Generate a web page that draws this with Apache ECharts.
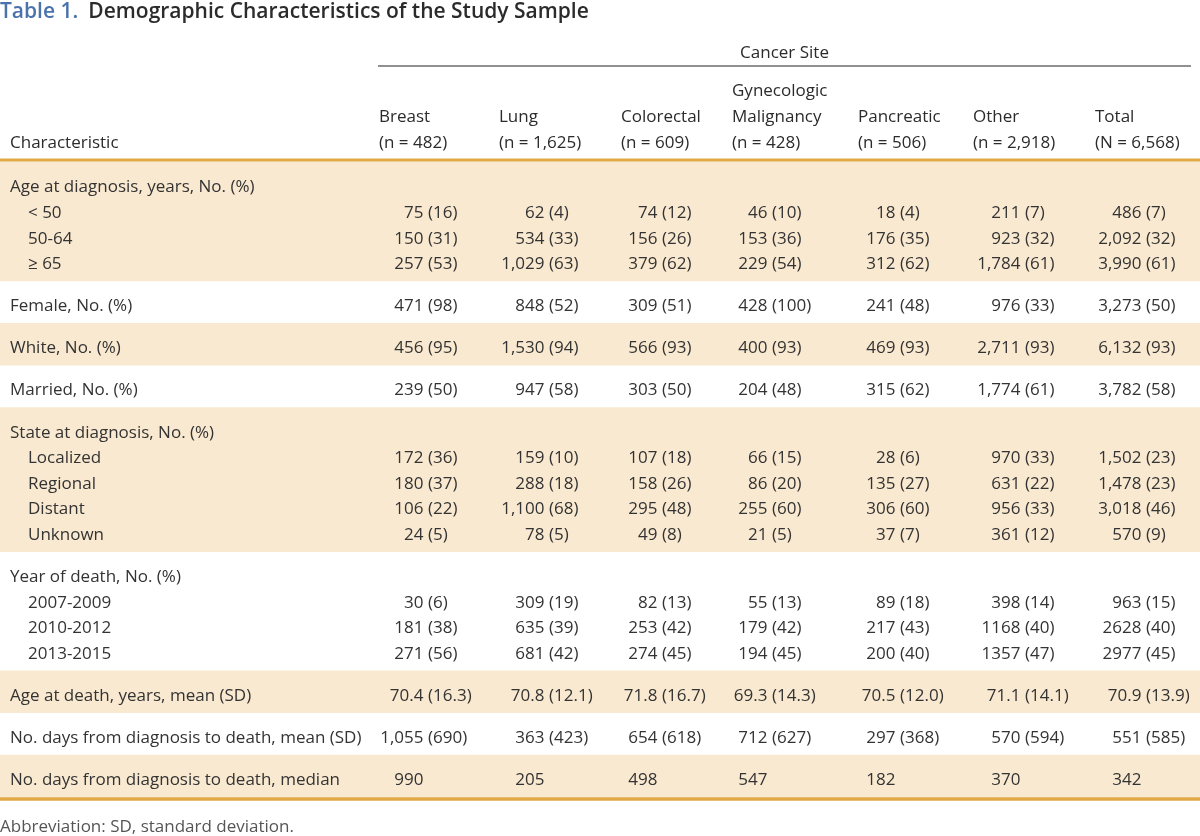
<!DOCTYPE html>
<html><head><meta charset="utf-8">
<script src="https://cdn.jsdelivr.net/npm/echarts@6/dist/echarts.min.js"></script>
<style>html,body{margin:0;padding:0;background:#fff}#chart{width:1200px;height:836px}</style>
</head><body><div id="chart"></div>
<script>
// ---------- DATA ----------
const tableNumber = 'Table 1.';
const tableTitle = 'Demographic Characteristics of the Study Sample';
const spannerLabel = 'Cancer Site';
const stubHeader = 'Characteristic';
const columnNames = ['Breast', 'Lung', 'Colorectal', 'Gynecologic\nMalignancy', 'Pancreatic', 'Other', 'Total'];
const columnCounts = ['(n = 482)', '(n = 1,625)', '(n = 609)', '(n = 428)', '(n = 506)', '(n = 2,918)', '(N = 6,568)'];
const rowLabels = [
  'Age at diagnosis, years, No. (%)', '< 50', '50-64', '\u2265 65',
  'Female, No. (%)', 'White, No. (%)', 'Married, No. (%)',
  'State at diagnosis, No. (%)', 'Localized', 'Regional', 'Distant', 'Unknown',
  'Year of death, No. (%)', '2007-2009', '2010-2012', '2013-2015',
  'Age at death, years, mean (SD)',
  'No. days from diagnosis to death, mean (SD)',
  'No. days from diagnosis to death, median'
];
const rowGroups = [0, 0, 0, 0, 1, 2, 3, 4, 4, 4, 4, 4, 5, 5, 5, 5, 6, 7, 8];
const breast      = ['', '75 (16)', '150 (31)', '257 (53)', '471 (98)', '456 (95)', '239 (50)', '', '172 (36)', '180 (37)', '106 (22)', '24 (5)', '', '30 (6)', '181 (38)', '271 (56)', '70.4 (16.3)', '1,055 (690)', '990'];
const lung        = ['', '62 (4)', '534 (33)', '1,029 (63)', '848 (52)', '1,530 (94)', '947 (58)', '', '159 (10)', '288 (18)', '1,100 (68)', '78 (5)', '', '309 (19)', '635 (39)', '681 (42)', '70.8 (12.1)', '363 (423)', '205'];
const colorectal  = ['', '74 (12)', '156 (26)', '379 (62)', '309 (51)', '566 (93)', '303 (50)', '', '107 (18)', '158 (26)', '295 (48)', '49 (8)', '', '82 (13)', '253 (42)', '274 (45)', '71.8 (16.7)', '654 (618)', '498'];
const gynecologic = ['', '46 (10)', '153 (36)', '229 (54)', '428 (100)', '400 (93)', '204 (48)', '', '66 (15)', '86 (20)', '255 (60)', '21 (5)', '', '55 (13)', '179 (42)', '194 (45)', '69.3 (14.3)', '712 (627)', '547'];
const pancreatic  = ['', '18 (4)', '176 (35)', '312 (62)', '241 (48)', '469 (93)', '315 (62)', '', '28 (6)', '135 (27)', '306 (60)', '37 (7)', '', '89 (18)', '217 (43)', '200 (40)', '70.5 (12.0)', '297 (368)', '182'];
const other       = ['', '211 (7)', '923 (32)', '1,784 (61)', '976 (33)', '2,711 (93)', '1,774 (61)', '', '970 (33)', '631 (22)', '956 (33)', '361 (12)', '', '398 (14)', '1168 (40)', '1357 (47)', '71.1 (14.1)', '570 (594)', '370'];
const total       = ['', '486 (7)', '2,092 (32)', '3,990 (61)', '3,273 (50)', '6,132 (93)', '3,782 (58)', '', '1,502 (23)', '1,478 (23)', '3,018 (46)', '570 (9)', '', '963 (15)', '2628 (40)', '2977 (45)', '70.9 (13.9)', '551 (585)', '342'];
const footnote = 'Abbreviation: SD, standard deviation.';

// ---------- LAYOUT & STYLE ----------
const columns = [breast, lung, colorectal, gynecologic, pancreatic, other, total];
const L = {
  W: 1200, H: 836,
  stubX: 10, indentX: 28,
  colX: [379, 499, 621, 732, 858, 973, 1095],
  splitX: [428, 549, 662, 772, 900, 1025, 1146],
  numGap: 4.5,
  firstRowY: 187.5, rowStep: 25.6, groupGap: 16.5,
  spannerY: 53, spannerRuleY: 66, ruleX0: 378, ruleX1: 1191,
  headLastY: 143.5, headLineStep: 26,
  headRuleY: 160, headRuleW: 3,
  footRuleY: 799, footRuleW: 3.5,
  bandTopOffset: 25.5, bandBottomOffset: 17
};
const FONT = '"Open Sans", Lato, sans-serif';
const C = { text: '#333333', head: '#2b2b2b', band: '#f9e9d0', gold: '#e2a843', blue: '#4a72ad', rule: '#222222', foot: '#555555' };
const BODY_SIZE = 17;
const HEAD_WEIGHT = 500;

function rowY(i) { return L.firstRowY + i * L.rowStep + rowGroups[i] * L.groupGap; }
function isIndented(i) {
  const g = rowGroups[i];
  const first = rowGroups.indexOf(g);
  const count = rowGroups.filter(v => v === g).length;
  return count > 1 && i !== first;
}
const groupIds = [...new Set(rowGroups)];
function groupRows(g) { const r = []; rowGroups.forEach((v, i) => { if (v === g) r.push(i); }); return r; }

function txt(x, y, text, opts) {
  opts = opts || {};
  return {
    type: 'text', x: x, y: y, silent: true,
    style: {
      text: text, fill: opts.fill || C.text,
      fontSize: opts.size || BODY_SIZE, fontFamily: FONT, fontWeight: opts.weight || 'normal',
      align: opts.align || 'left', textAlign: opts.align || 'left',
      verticalAlign: 'middle', textVerticalAlign: 'middle'
    }
  };
}

const chart = echarts.init(document.getElementById('chart'), null, { renderer: 'canvas' });

const option = {
  animation: false,
  backgroundColor: '#ffffff',
  title: [
    {
      left: 0, top: 0, padding: 0,
      text: '{a|' + tableNumber + '}  {b|' + tableTitle + '}',
      textStyle: {
        rich: {
          a: { color: C.blue, fontSize: 21, fontFamily: FONT, fontWeight: 600, lineHeight: 25 },
          b: { color: C.head, fontSize: 21, fontFamily: FONT, fontWeight: 600, lineHeight: 25 }
        }
      }
    },
    {
      left: 0, top: 817, padding: 0, text: footnote,
      textStyle: { color: C.foot, fontSize: BODY_SIZE, fontFamily: FONT, fontWeight: 'normal', lineHeight: 20 }
    }
  ],
  grid: { left: 0, right: 0, top: 0, bottom: 0 },
  xAxis: { type: 'value', min: 0, max: L.W, show: false },
  yAxis: { type: 'value', min: 0, max: L.H, inverse: true, show: false },
  series: [
    // shaded bands per row group
    {
      type: 'custom', silent: true, z: 1,
      data: groupIds.map(g => [0, rowY(groupRows(g)[0])]),
      renderItem: function (params, api) {
        const g = groupIds[params.dataIndex];
        if (g % 2 !== 0) return { type: 'group', children: [] };
        const rows = groupRows(g);
        const next = g < groupIds.length - 1 ? groupRows(g + 1) : null;
        const top = g === 0 ? L.headRuleY + L.headRuleW / 2 : rowY(rows[0]) - L.bandTopOffset;
        const bottom = next ? rowY(rows[rows.length - 1]) + L.bandBottomOffset : L.footRuleY - L.footRuleW / 2;
        const p0 = api.coord([0, top]);
        const p1 = api.coord([L.W, bottom]);
        return { type: 'rect', shape: { x: p0[0], y: p0[1], width: p1[0] - p0[0], height: p1[1] - p0[1] }, style: { fill: C.band } };
      }
    },
    // header: spanner, column heads, rules
    {
      type: 'custom', silent: true, z: 3,
      data: [[0, L.headRuleY]],
      renderItem: function (params, api) {
        const ch = [];
        const sp = api.coord([(L.ruleX0 + L.ruleX1) / 2, L.spannerY]);
        ch.push(txt(sp[0], sp[1], spannerLabel, { align: 'center', weight: HEAD_WEIGHT, fill: C.head }));
        const r0 = api.coord([L.ruleX0, L.spannerRuleY]);
        const r1 = api.coord([L.ruleX1, L.spannerRuleY]);
        ch.push({ type: 'line', shape: { x1: r0[0], y1: r0[1], x2: r1[0], y2: r1[1] }, style: { stroke: C.rule, lineWidth: 1.2 } });
        const st = api.coord([L.stubX, L.headLastY]);
        ch.push(txt(st[0], st[1], stubHeader, { weight: HEAD_WEIGHT, fill: C.head }));
        columnNames.forEach(function (name, c) {
          const lines = name.split('\n').concat([columnCounts[c]]);
          lines.forEach(function (ln, k) {
            const y = L.headLastY - (lines.length - 1 - k) * L.headLineStep;
            const p = api.coord([L.colX[c], y]);
            ch.push(txt(p[0], p[1], ln, { weight: HEAD_WEIGHT, fill: C.head }));
          });
        });
        const h0 = api.coord([0, L.headRuleY]);
        const h1 = api.coord([L.W, L.headRuleY]);
        ch.push({ type: 'line', shape: { x1: h0[0], y1: h0[1], x2: h1[0], y2: h1[1] }, style: { stroke: C.gold, lineWidth: L.headRuleW } });
        const f0 = api.coord([0, L.footRuleY]);
        const f1 = api.coord([L.W, L.footRuleY]);
        ch.push({ type: 'line', shape: { x1: f0[0], y1: f0[1], x2: f1[0], y2: f1[1] }, style: { stroke: C.gold, lineWidth: L.footRuleW } });
        return { type: 'group', children: ch };
      }
    },
    // body rows
    {
      type: 'custom', silent: true, z: 4,
      data: rowLabels.map((_, i) => [0, rowY(i)]),
      renderItem: function (params, api) {
        const i = params.dataIndex;
        const y = api.value(1);
        const ch = [];
        const lp = api.coord([isIndented(i) ? L.indentX : L.stubX, y]);
        ch.push(txt(lp[0], lp[1], rowLabels[i]));
        columns.forEach(function (col, c) {
          const v = col[i];
          if (!v) return;
          const m = v.match(/^(\S+)(?:\s+(\(.*\)))?$/);
          const np = api.coord([L.splitX[c] - L.numGap, y]);
          ch.push(txt(np[0], np[1], m[1], { align: 'right' }));
          if (m[2]) {
            const pp = api.coord([L.splitX[c], y]);
            ch.push(txt(pp[0], pp[1], m[2], { align: 'left' }));
          }
        });
        return { type: 'group', children: ch };
      }
    }
  ]
};
chart.setOption(option);
</script>
</body></html>
